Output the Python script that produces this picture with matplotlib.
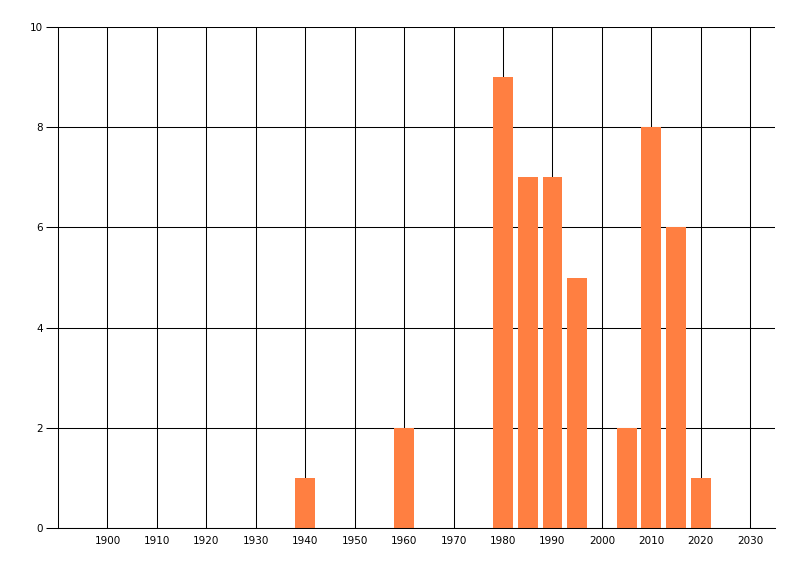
import matplotlib.pyplot as plt

# Values
years = [1940, 1960, 1980, 1985, 1990, 1995, 2005, 2010, 2015, 2020]
counts = [1, 2, 9, 7, 7, 5, 2, 8, 6, 1]
x_ticks = list(range(1900, 2031, 10))
y_ticks = [0, 2, 4, 6, 8, 10]

plt.rcParams['font.family'] = ['DejaVu Sans']

fig = plt.figure(figsize=(8, 5.76), dpi=100)
ax = fig.add_axes([58 / 800, 1 - 528 / 576, (775 - 58) / 800, (528 - 27) / 576])

# Grid lines (1 px)
for x in x_ticks:
    ax.axvline(x, color='black', lw=0.75, zorder=1)
for y in y_ticks:
    ax.axhline(y, color='black', lw=0.75, zorder=1)

ax.bar(years, counts, width=4, color='#FF7F41', zorder=2)

ax.set_xlim(1890, 2035)
ax.set_ylim(0, 10)
ax.set_xticks(x_ticks)
ax.set_yticks(y_ticks)
ax.tick_params(axis='x', length=0, pad=6, labelsize=7.5)
ax.tick_params(axis='y', length=9, width=0.75, pad=2, labelsize=7.5)

for s in ['top', 'right']:
    ax.spines[s].set_visible(False)
for s in ['left', 'bottom']:
    ax.spines[s].set_linewidth(0.75)

fig.savefig('out.png', dpi=100)
